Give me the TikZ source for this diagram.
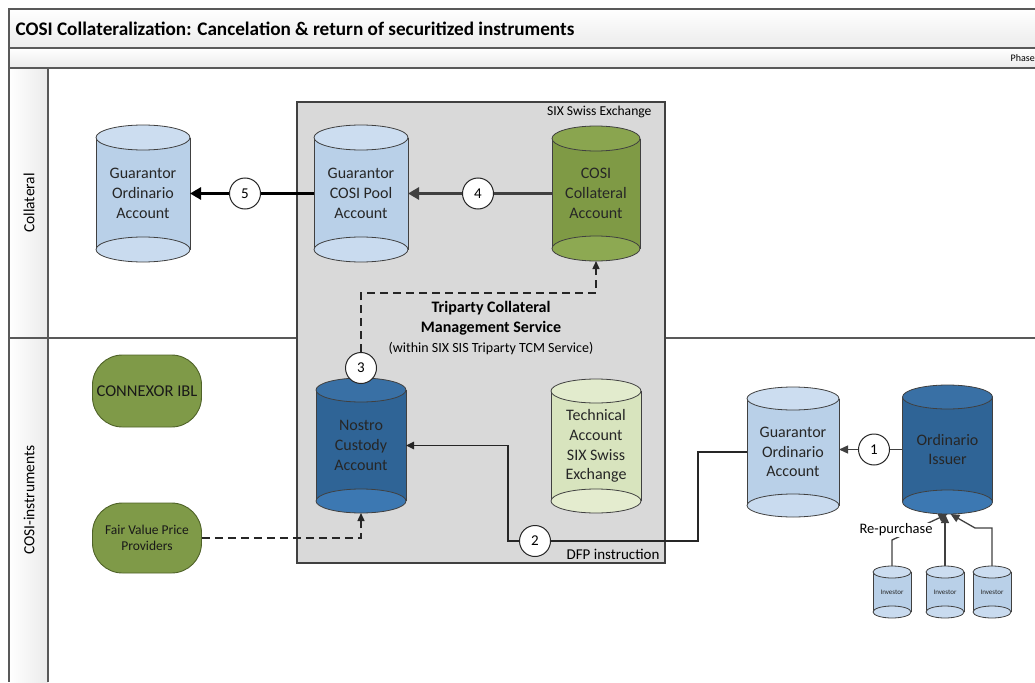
\documentclass[tikz,border=0pt]{standalone}
\usepackage{fontspec}
\setmainfont{Carlito}
\usetikzlibrary{arrows.meta,calc}
\definecolor{lb}{HTML}{B9D0E8}
\definecolor{lbtop}{HTML}{CCDDF0}
\definecolor{lbbot}{HTML}{C9DBEF}
\definecolor{db}{HTML}{2F6496}
\definecolor{dbtop}{HTML}{3970A5}
\definecolor{dbbot}{HTML}{3C78B2}
\definecolor{ol}{HTML}{7F9A45}
\definecolor{oltop}{HTML}{8AA54F}
\definecolor{olbot}{HTML}{8DA952}
\definecolor{pg}{HTML}{D8E4BE}
\definecolor{pgtop}{HTML}{E2EBCD}
\definecolor{pgbot}{HTML}{E4ECCF}
\definecolor{gn}{HTML}{7F9A48}
\definecolor{gnb}{HTML}{4F6228}
\definecolor{framec}{HTML}{595959}
\definecolor{ink}{HTML}{262626}
\definecolor{darkg}{HTML}{404040}
\definecolor{boxgray}{HTML}{D9D9D9}
\definecolor{barlo}{HTML}{EBEBEB}
\newcommand{\cylfont}{\fontsize{16}{19.8}\selectfont}
\newcommand{\invfont}{\fontsize{7}{8}\selectfont}
\newcommand{\dbcyl}[9]{%
  \pgfmathsetmacro\cyL{#2-#4/2}%
  \pgfmathsetmacro\cyR{#2+#4/2}%
  \pgfmathsetmacro\cyT{#3+#6}%
  \pgfmathsetmacro\cyB{#3+#5-#6}%
  \pgfmathsetmacro\cyX{#4/2}%
  \fill[#7] (\cyL,\cyT) rectangle (\cyR,\cyB);
  \draw[cylline] (\cyL,\cyT) -- (\cyL,\cyB) (\cyR,\cyT) -- (\cyR,\cyB);
  \draw[cylline, fill=#7bot] (#2,\cyB) ellipse [x radius=\cyX, y radius=#6];
  \draw[cylline, fill=#7top] (#2,\cyT) ellipse [x radius=\cyX, y radius=#6];
  \node[cyltext, minimum width=#4, minimum height=#5, font=#8] (#1) at (#2,{#3+#5/2}) {#9};
}
\begin{document}
\begin{tikzpicture}[x=1pt,y=-1pt,
  cylline/.style={draw=darkg, line width=0.8pt},
  cyltext/.style={inner sep=0pt, outer sep=0pt, align=center, text=ink},
  framel/.style={draw=framec, line width=1.4pt},
  pill/.style={draw=gnb, fill=gn, line width=0.9pt, rounded corners=30pt, align=center, inner sep=2pt, text=black!90},
  num/.style={circle, draw=ink, fill=white, line width=1pt, minimum size=31pt, inner sep=0pt, font=\fontsize{15}{15}\selectfont},
  thickblack/.style={line width=3pt, draw=black, -{Triangle[length=11pt,width=12pt]}},
  thickgray/.style={line width=3pt, draw=darkg, -{Triangle[length=11pt,width=12pt]}},
  thinarrow/.style={line width=1.4pt, draw=ink, -{Triangle[length=8pt,width=7.5pt]}},
  grayarrow/.style={line width=1.3pt, draw=darkg, -{Triangle[length=9pt,width=8pt]}},
  dasharrow/.style={line width=1.4pt, draw=ink, dash pattern=on 8pt off 5pt, -{Triangle[length=8pt,width=7pt]}}
]
\useasboundingbox (0,0) rectangle (1035,682);
% frame and bars
\shade[top color=white, bottom color=barlo] (9,9) rectangle (1035,48);
\shade[top color=white, bottom color=barlo] (9,48) rectangle (1035,68);
\shade[left color=white, right color=barlo] (9,68) rectangle (48,682);
\draw[framel] (1035,9) -- (9,9) -- (9,682);
\draw[framel] (9,48) -- (1035,48);
\draw[framel] (9,68) -- (1035,68);
\draw[framel] (48,68) -- (48,682);
\draw[framel] (9,338) -- (1035,338);
\node[anchor=west, font=\bfseries\fontsize{19.2}{19.2}\selectfont] (title) at (12,29) {COSI Collateralization: Cancelation \& return of securitized instruments};
\node[anchor=east, font=\fontsize{10}{10}\selectfont, inner sep=0pt] (phase) at (1035,58) {Phase};
\node[rotate=90, font=\fontsize{15.5}{15.5}\selectfont] (lane1) at (29,203) {Collateral};
\node[rotate=90, font=\fontsize{15.5}{15.5}\selectfont] (lane2) at (29,500) {COSI-instruments};
% SIX box
\node[draw=darkg, fill=boxgray, line width=1.3pt, minimum width=368pt, minimum height=461pt, inner sep=0pt] (six) at (481,332.5) {};
\node[anchor=east, font=\fontsize{13.6}{13.6}\selectfont] (sixlbl) at (655,112) {SIX Swiss Exchange};
\node[align=center, font=\bfseries\fontsize{16}{20}\selectfont] (tcm) at (491,318) {Triparty Collateral\\Management Service};
\node[font=\fontsize{14}{14}\selectfont] (tcmsub) at (491,349) {(within SIX SIS Triparty TCM Service)};
\node[anchor=east, font=\fontsize{15}{15}\selectfont] (dfp) at (663,554) {DFP instruction};
% cylinders
\dbcyl{gord1}{143}{125}{94}{137}{12.5}{lb}{\cylfont}{Guarantor\\Ordinario\\Account}
\dbcyl{pool}{361}{125}{94}{137}{12.5}{lb}{\cylfont}{Guarantor\\COSI Pool\\Account}
\dbcyl{coll}{596}{126}{88}{135}{12.5}{ol}{\cylfont}{COSI\\Collateral\\Account}
\dbcyl{nostro}{361}{378}{90}{135}{12}{db}{\cylfont}{Nostro\\Custody\\Account}
\dbcyl{tech}{596}{379}{90}{134}{12}{pg}{\cylfont}{Technical\\Account\\SIX Swiss\\Exchange}
\dbcyl{gord2}{793}{387}{92}{130}{11.5}{lb}{\cylfont}{Guarantor\\Ordinario\\Account}
\dbcyl{issuer}{947.5}{385}{90}{129}{12}{db}{\cylfont}{Ordinario\\Issuer}
\dbcyl{inv1}{892}{566}{38}{52}{6}{lb}{\invfont}{Investor}
\dbcyl{inv2}{945}{566}{38}{52}{6}{lb}{\invfont}{Investor}
\dbcyl{inv3}{992}{566}{38}{52}{6}{lb}{\invfont}{Investor}
% green pills
\node[pill, minimum width=109pt, minimum height=72pt, font=\fontsize{16.5}{16.5}\selectfont] (connexor) at (147,391) {CONNEXOR IBL};
\node[pill, minimum width=109pt, minimum height=70pt, font=\fontsize{13.5}{16.5}\selectfont] (fvpp) at (147,538) {Fair Value Price\\Providers};
% connectors
\draw[thickblack] (pool.west) -- (gord1.east);
\draw[thickgray] (coll.west) -- (pool.east);
\coordinate (k3) at (361,293);
\draw[dasharrow] (nostro.north) -- (k3) -| (coll.south);
\draw[dasharrow] (fvpp.east) -| (nostro.south);
\coordinate (k2a) at (698,541);
\coordinate (k2b) at (508,541);
\draw[thinarrow] (gord2.west) -| (k2a) -- (k2b) |- (nostro.east);
\draw[grayarrow] (issuer.west) -- (issuer.west -| gord2.east);
\coordinate (rpk) at (892,540);
\draw[grayarrow] (inv1.north) -- (rpk) -- (issuer.south);
\draw[grayarrow] (inv2.north) -- (inv2.north |- issuer.south);
\coordinate (k6a) at (992,528);
\coordinate (k6b) at (975,528);
\draw[grayarrow] (inv3.north) -- (k6a) -- (k6b) -- ([xshift=3pt]issuer.south);
\node[fill=white, inner sep=1pt, font=\fontsize{14.5}{14.5}\selectfont] (rp) at (896,530) {Re-purchase};
% step numbers
\node[num] (c5) at (245,193.5) {5};
\node[num] (c4) at (478,193.5) {4};
\node[num] (c3) at (361,368) {3};
\node[num] (c2) at (535,541) {2};
\node[num] (c1) at (874,449.5) {1};
\end{tikzpicture}
\end{document}
